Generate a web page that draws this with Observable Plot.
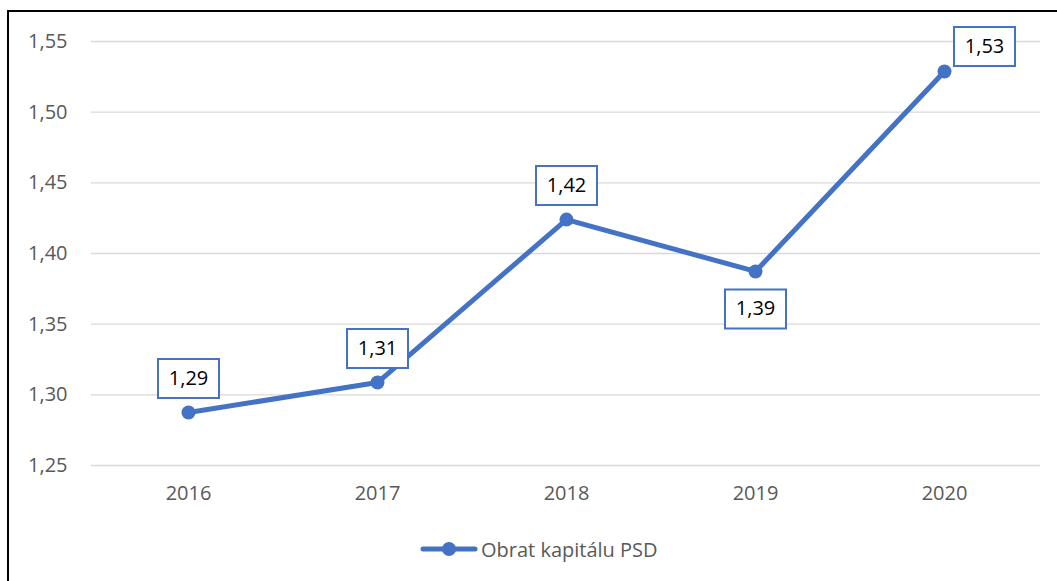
<!DOCTYPE html>
<html>
<head>
<meta charset="utf-8">
<script src="https://cdn.jsdelivr.net/npm/d3@7"></script>
<script src="https://cdn.jsdelivr.net/npm/@observablehq/plot@0.6"></script>
<style>
  html, body { margin: 0; padding: 0; background: #fff; }
  #wrap { position: relative; width: 1057px; height: 581px; overflow: hidden; font-family: "Open Sans", sans-serif; }
  #frame { position: absolute; left: 7px; top: 10px; width: 1200px; height: 700px; border-left: 2px solid #000; border-top: 2px solid #000; }
  #chart { position: absolute; left: 0; top: 0; }
  #legend { position: absolute; left: 420px; top: 535px; height: 28px; display: flex; align-items: center; color: #595959; font-size: 20px; }
  #legend svg { margin-right: 3px; }
</style>
</head>
<body>
<div id="wrap">
  <div id="frame"></div>
  <div id="chart"></div>
  <div id="legend"><svg width="58" height="20"><line x1="3" y1="10" x2="55" y2="10" stroke="#4472C4" stroke-width="5" stroke-linecap="round"/><circle cx="29" cy="10" r="7" fill="#4472C4"/></svg><span>Obrat kapitálu PSD</span></div>
</div>
<script>
const years = ["2016", "2017", "2018", "2019", "2020"];
const values = [1.2875, 1.3087, 1.424, 1.3873, 1.5288];
const labelPlacement = ["above", "above", "above", "below", "right"];
const yTicks = [1.25, 1.30, 1.35, 1.40, 1.45, 1.50, 1.55];
const seriesName = "Obrat kapitálu PSD";

const data = years.map((y, i) => ({year: y, value: values[i], place: labelPlacement[i]}));
const fmt = v => v.toFixed(2).replace(".", ",");
const blue = "#4472C4";

const boxSymbol = {
  draw(ctx) { ctx.rect(-30.5, -19.5, 61, 39); }
};

const offsets = {above: [0, -34], below: [0, 37.5], right: [40, -25]};
const labelMarks = Object.entries(offsets).flatMap(([place, [dx, dy]]) => {
  const sub = data.filter(d => d.place === place);
  return [
    Plot.dot(sub, {x: "year", y: "value", symbol: boxSymbol, r: 10, fill: "white", stroke: blue, strokeWidth: 2, dx, dy}),
    Plot.text(sub, {x: "year", y: "value", text: d => fmt(d.value), dx, dy, fill: "#000", fontSize: 20})
  ];
});

const chart = Plot.plot({
  width: 1057,
  height: 520,
  marginLeft: 91,
  marginRight: 17,
  marginTop: 41,
  marginBottom: 55,
  style: {fontFamily: "'Open Sans', sans-serif", background: "transparent"},
  x: {type: "point", domain: years, padding: 0.5, label: null},
  y: {domain: [1.25, 1.55], label: null},
  marks: [
    Plot.ruleY(yTicks, {stroke: "#d9d9d9", strokeWidth: 1.3}),
    Plot.axisY(yTicks, {tickSize: 0, tickPadding: 24, tickFormat: fmt, fontSize: 20, fill: "#595959", label: null}),
    Plot.axisX({tickSize: 0, tickPadding: 20, fontSize: 20, fill: "#595959", label: null}),
    Plot.line(data, {x: "year", y: "value", stroke: blue, strokeWidth: 5, strokeLinejoin: "round"}),
    Plot.dot(data, {x: "year", y: "value", r: 7, fill: blue}),
    ...labelMarks
  ]
});
chart.setAttribute("aria-label", seriesName);
document.getElementById("chart").appendChild(chart);
</script>
</body>
</html>
